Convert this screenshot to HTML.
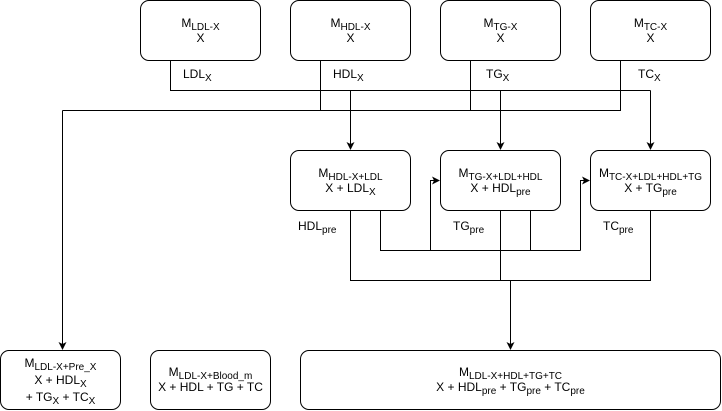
<!DOCTYPE html>
<html><head><meta charset="utf-8"><style>
body{margin:0;width:722px;height:411px;background:#fff;position:relative;overflow:hidden;font-family:"Liberation Sans",Arial,sans-serif;font-size:12px;color:#000}
.b{position:absolute;box-sizing:border-box;border:1px solid #000;border-radius:9px;background:#fff;display:flex;justify-content:center;align-items:center;text-align:center;line-height:15px}
.b>div{display:block}
sub{font-size:10px;vertical-align:-3px;line-height:0}
.l{position:absolute;line-height:14px}
svg{position:absolute;left:0;top:0}
</style></head><body>
<svg width="722" height="411">
<defs><marker id="a" markerWidth="8" markerHeight="8" refX="7" refY="4" orient="auto" markerUnits="userSpaceOnUse"><path d="M0,0 L8,4 L0,8 L2,4 z" fill="#000"/></marker></defs>
<g stroke="#000" stroke-width="1" fill="none">
<path d="M170.5,60 V90.5 H650.5"/>
<path d="M350.5,90.5 V149" marker-end="url(#a)"/>
<path d="M500.5,90.5 V149" marker-end="url(#a)"/>
<path d="M650.5,90.5 V149" marker-end="url(#a)"/>
<path d="M320.5,60 V110.5 M470.5,60 V110.5 M620.5,60 V110.5 H62.5"/>
<path d="M62.5,110.5 V349" marker-end="url(#a)"/>
<path d="M380.5,210 V250.5 H580.5 M530.5,210 V250.5"/>
<path d="M430.5,250.5 V180.5 H439" marker-end="url(#a)"/>
<path d="M580.5,250.5 V180.5 H589" marker-end="url(#a)"/>
<path d="M350.5,210 V280.5 H650.5 V210 M500.5,210 V280.5"/>
<path d="M510.5,280.5 V349" marker-end="url(#a)"/>
</g></svg>
<div class="b" style="left:140px;top:0;width:121px;height:61px"><div>M<sub>LDL-X</sub><br>X</div></div>
<div class="b" style="left:290px;top:0;width:121px;height:61px"><div>M<sub>HDL-X</sub><br>X</div></div>
<div class="b" style="left:440px;top:0;width:121px;height:61px"><div>M<sub>TG-X</sub><br>X</div></div>
<div class="b" style="left:590px;top:0;width:121px;height:61px"><div>M<sub>TC-X</sub><br>X</div></div>
<div class="l" style="left:183px;top:67px">LDL<sub>X</sub></div>
<div class="l" style="left:333px;top:67px">HDL<sub>X</sub></div>
<div class="l" style="left:486px;top:67px">TG<sub>X</sub></div>
<div class="l" style="left:638px;top:67px">TC<sub>X</sub></div>
<div class="b" style="left:290px;top:150px;width:121px;height:61px"><div>M<sub>HDL-X+LDL</sub><br>X + LDL<sub>X</sub></div></div>
<div class="b" style="left:440px;top:150px;width:121px;height:61px"><div>M<sub>TG-X+LDL+HDL</sub><br>X + HDL<sub>pre</sub></div></div>
<div class="b" style="left:590px;top:150px;width:121px;height:61px"><div>M<sub>TC-X+LDL+HDL+TG</sub><br>X + TG<sub>pre</sub></div></div>
<div class="l" style="left:298px;top:219px">HDL<sub>pre</sub></div>
<div class="l" style="left:453px;top:219px">TG<sub>pre</sub></div>
<div class="l" style="left:603px;top:219px">TC<sub>pre</sub></div>
<div class="b" style="left:0;top:350px;width:121px;height:60px;line-height:17px"><div>M<sub>LDL-X+Pre_X</sub><br>X + HDL<sub>X</sub><br>+ TG<sub>X</sub> + TC<sub>X</sub></div></div>
<div class="b" style="left:150px;top:350px;width:121px;height:60px"><div>M<sub>LDL-X+Blood_m</sub><br>X + HDL + TG + TC</div></div>
<div class="b" style="left:300px;top:350px;width:421px;height:60px"><div>M<sub>LDL-X+HDL+TG+TC</sub><br>X + HDL<sub>pre</sub> + TG<sub>pre</sub> + TC<sub>pre</sub></div></div>
</body></html>
